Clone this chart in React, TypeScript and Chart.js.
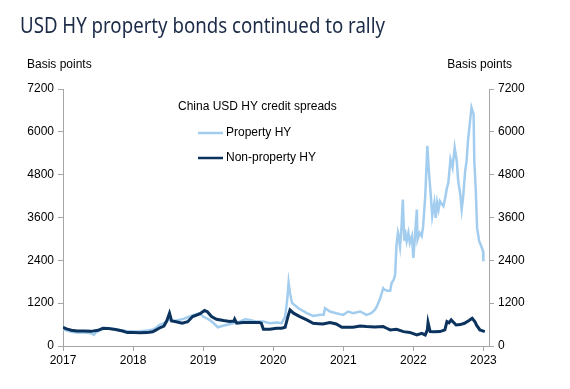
import React, { useEffect, useRef } from "react";
import { Chart, registerables } from "chart.js";

Chart.register(...registerables);

const TITLE = "USD HY property bonds continued to rally";
const AXIS_LABEL = "Basis points";
const LEGEND_TITLE = "China USD HY credit spreads";
const SERIES_NAMES = ["Property HY", "Non-property HY"];
const YEAR_TICKS = [2017, 2018, 2019, 2020, 2021, 2022, 2023];
const Y_TICK_STEP = 1200;
const Y_MAX = 7200;

const propertyDates = [
  2017.0, 2017.05, 2017.12, 2017.2, 2017.3, 2017.4, 2017.44, 2017.47, 2017.55, 2017.62, 2017.7, 2017.8, 2017.9,
  2018.0, 2018.1, 2018.2, 2018.3, 2018.38, 2018.45, 2018.5, 2018.56, 2018.62, 2018.72, 2018.8, 2018.88, 2018.95,
  2019.0, 2019.05, 2019.1, 2019.15, 2019.21, 2019.27, 2019.33, 2019.43, 2019.52, 2019.6, 2019.67, 2019.76, 2019.86, 2019.95,
  2020.05, 2020.12, 2020.17, 2020.2, 2020.22, 2020.24, 2020.27, 2020.3, 2020.36, 2020.48, 2020.57, 2020.67, 2020.72, 2020.74, 2020.81, 2020.9,
  2021.0, 2021.07, 2021.14, 2021.24, 2021.33, 2021.4, 2021.45, 2021.48, 2021.53, 2021.57, 2021.59, 2021.63, 2021.67, 2021.69, 2021.72, 2021.74,
  2021.76, 2021.78, 2021.79, 2021.81, 2021.83, 2021.85, 2021.87, 2021.88, 2021.905, 2021.93, 2021.95, 2021.98,
  2022.0, 2022.02, 2022.05, 2022.06, 2022.09, 2022.12, 2022.14, 2022.17, 2022.19, 2022.2, 2022.22, 2022.25, 2022.27, 2022.3, 2022.32, 2022.34, 2022.36,
  2022.38, 2022.41, 2022.43, 2022.45, 2022.48, 2022.5, 2022.53, 2022.56, 2022.59, 2022.62, 2022.64, 2022.67, 2022.69, 2022.71, 2022.74, 2022.76,
  2022.78, 2022.81, 2022.83, 2022.86, 2022.87, 2022.89, 2022.91, 2022.94, 2022.97, 2022.995, 2023.0,
];
const propertyValues = [
  469, 440, 400, 375, 380, 356, 309, 380, 470, 497, 480, 450, 420,
  403, 410, 431, 470, 590, 650, 731, 700, 712, 760, 825, 880, 919,
  825, 778, 720, 637, 525, 560, 590, 637, 684, 750, 731, 684, 684, 637,
  656, 637, 825, 1294, 1781, 1481, 1200, 1153, 1059, 919, 844, 872, 872, 1059, 966, 919,
  872, 966, 919, 966, 872, 919, 1012, 1106, 1350, 1620, 1575, 1550, 1550, 1763, 1856, 1997,
  2841, 3169, 3075, 2793, 3300, 4106, 2981, 3263, 2934, 3169, 2888, 3075,
  2466, 2981, 3825, 2981, 3169, 3075, 3356, 4200, 5137, 5606, 4950, 4200, 3638, 4013, 3591, 4022, 3825,
  4059, 3966, 3919, 4100, 4434, 4575, 5231, 5000, 5559, 5184, 4622, 4247, 3825, 4153, 4903, 5184,
  5747, 6309, 6684, 6497, 5184, 4434, 3309, 2934, 2794, 2653, 2372,
];

const nonPropertyDates = [
  2017.0, 2017.05, 2017.12, 2017.2, 2017.3, 2017.4, 2017.5, 2017.57, 2017.65, 2017.75, 2017.85, 2017.92,
  2018.0, 2018.1, 2018.2, 2018.28, 2018.33, 2018.37, 2018.44, 2018.48, 2018.52, 2018.55, 2018.6, 2018.7, 2018.78, 2018.85, 2018.95,
  2019.02, 2019.06, 2019.12, 2019.19, 2019.29, 2019.38, 2019.44, 2019.45, 2019.48, 2019.57, 2019.71, 2019.8, 2019.83, 2019.86, 2019.95,
  2020.05, 2020.12, 2020.17, 2020.21, 2020.24, 2020.29, 2020.38, 2020.48, 2020.57, 2020.65, 2020.71, 2020.81, 2020.9, 2020.98,
  2021.14, 2021.24, 2021.33, 2021.45, 2021.57, 2021.62, 2021.67, 2021.76, 2021.86, 2021.95,
  2022.05, 2022.12, 2022.17, 2022.2, 2022.21, 2022.24, 2022.3, 2022.38, 2022.45, 2022.48, 2022.51, 2022.54, 2022.58, 2022.61,
  2022.67, 2022.73, 2022.8, 2022.84, 2022.88, 2022.9, 2022.95, 2022.98, 2023.02,
];
const nonPropertyValues = [
  525, 480, 440, 422, 420, 410, 440, 497, 490, 460, 420, 375,
  375, 370, 375, 400, 450, 497, 560, 700, 919, 700, 684, 637, 680, 825, 900,
  994, 960, 825, 750, 712, 684, 700, 750, 637, 656, 656, 656, 640, 469, 469,
  497, 500, 525, 825, 1012, 919, 825, 731, 637, 625, 618, 656, 618, 525,
  525, 562, 544, 530, 544, 497, 450, 469, 403, 380,
  309, 356, 309, 450, 656, 403, 400, 403, 450, 684, 650, 731, 650, 590,
  600, 637, 720, 778, 680, 590, 450, 430, 403,
];

const LIGHT = "#a3cdef";
const DARK = "#0b335e";
const AXIS = "#a6a6a6";
const FONT = '"Liberation Sans", Arial, sans-serif';

const textPlugin = {
  id: "texts",
  afterDraw(chart: any) {
    const ctx = chart.ctx as CanvasRenderingContext2D;
    ctx.save();
    ctx.fillStyle = "#1b2a47";
    ctx.font = '21px "Noto Sans", "Open Sans", sans-serif';
    ctx.textBaseline = "alphabetic";
    ctx.textAlign = "left";
    const w = ctx.measureText(TITLE).width;
    const target = 365;
    ctx.save();
    ctx.translate(20, 33);
    ctx.scale(target / w, 1);
    ctx.fillText(TITLE, 0, 0);
    ctx.restore();

    ctx.fillStyle = "#000";
    ctx.font = "12px " + FONT;
    ctx.textAlign = "left";
    ctx.fillText(AXIS_LABEL, 27, 68);
    ctx.textAlign = "right";
    ctx.fillText(AXIS_LABEL, 512, 68);

    ctx.textAlign = "left";
    ctx.textBaseline = "middle";
    ctx.fillText(LEGEND_TITLE, 178, 107);
    const items = [
      { name: SERIES_NAMES[0], color: LIGHT, y: 133 },
      { name: SERIES_NAMES[1], color: DARK, y: 158 },
    ];
    for (const it of items) {
      ctx.strokeStyle = it.color;
      ctx.lineWidth = 2.5;
      ctx.beginPath();
      ctx.moveTo(198, it.y);
      ctx.lineTo(223, it.y);
      ctx.stroke();
      ctx.fillStyle = "#000";
      ctx.fillText(it.name, 226, it.y);
    }
    ctx.restore();
  },
};

export default function App() {
  const ref = useRef<HTMLCanvasElement | null>(null);
  useEffect(() => {
    if (!ref.current) return;
    const toPts = (xs: number[], ys: number[]) => xs.map((x, i) => ({ x, y: ys[i] }));
    const yCommon = {
      min: 0,
      max: Y_MAX,
      grid: { drawOnChartArea: false, drawTicks: true, tickLength: 5, color: AXIS },
      border: { display: true, color: AXIS },
      ticks: {
        stepSize: Y_TICK_STEP,
        color: "#000",
        font: { size: 12, family: FONT },
        padding: 4,
        callback: (v: any) => String(v),
      },
    };
    const chart = new Chart(ref.current, {
      type: "line",
      data: {
        datasets: [
          {
            label: SERIES_NAMES[0],
            data: toPts(propertyDates, propertyValues),
            borderColor: LIGHT,
            borderWidth: 2.5,
            pointRadius: 0,
            tension: 0,
            order: 2,
            yAxisID: "y",
          },
          {
            label: SERIES_NAMES[1],
            data: toPts(nonPropertyDates, nonPropertyValues),
            borderColor: DARK,
            borderWidth: 3,
            pointRadius: 0,
            tension: 0,
            order: 1,
            yAxisID: "y",
          },
        ],
      },
      options: {
        responsive: false,
        animation: false,
        devicePixelRatio: 1,
        layout: { padding: { top: 89, left: 0, right: 0, bottom: 0 } },
        plugins: { legend: { display: false }, tooltip: { enabled: false }, title: { display: false } },
        scales: {
          x: {
            type: "linear",
            min: 2017,
            max: 2023.08,
            afterBuildTicks: (scale: any) => {
              scale.ticks = YEAR_TICKS.map((v) => ({ value: v }));
            },
            afterFit: (scale: any) => {
              scale.height = 43;
            },
            grid: { drawOnChartArea: false, drawTicks: true, tickLength: 5, color: AXIS },
            border: { display: true, color: AXIS },
            ticks: {
              color: "#000",
              font: { size: 12, family: FONT },
              padding: 2,
              maxRotation: 0,
              autoSkip: false,
              callback: (v: any) => String(v),
            },
          },
          y: {
            ...yCommon,
            position: "left",
            afterFit: (scale: any) => {
              scale.width = 63;
            },
          },
          y2: {
            ...yCommon,
            position: "right",
            afterFit: (scale: any) => {
              scale.width = 81;
            },
          },
        },
      } as any,
      plugins: [textPlugin],
    });
    return () => chart.destroy();
  }, []);
  return (
    <div style={{ position: "absolute", left: 0, top: 0, width: 570, height: 389, background: "#fff" }}>
      <canvas ref={ref} width={570} height={389} style={{ width: 570, height: 389 }} />
    </div>
  );
}
